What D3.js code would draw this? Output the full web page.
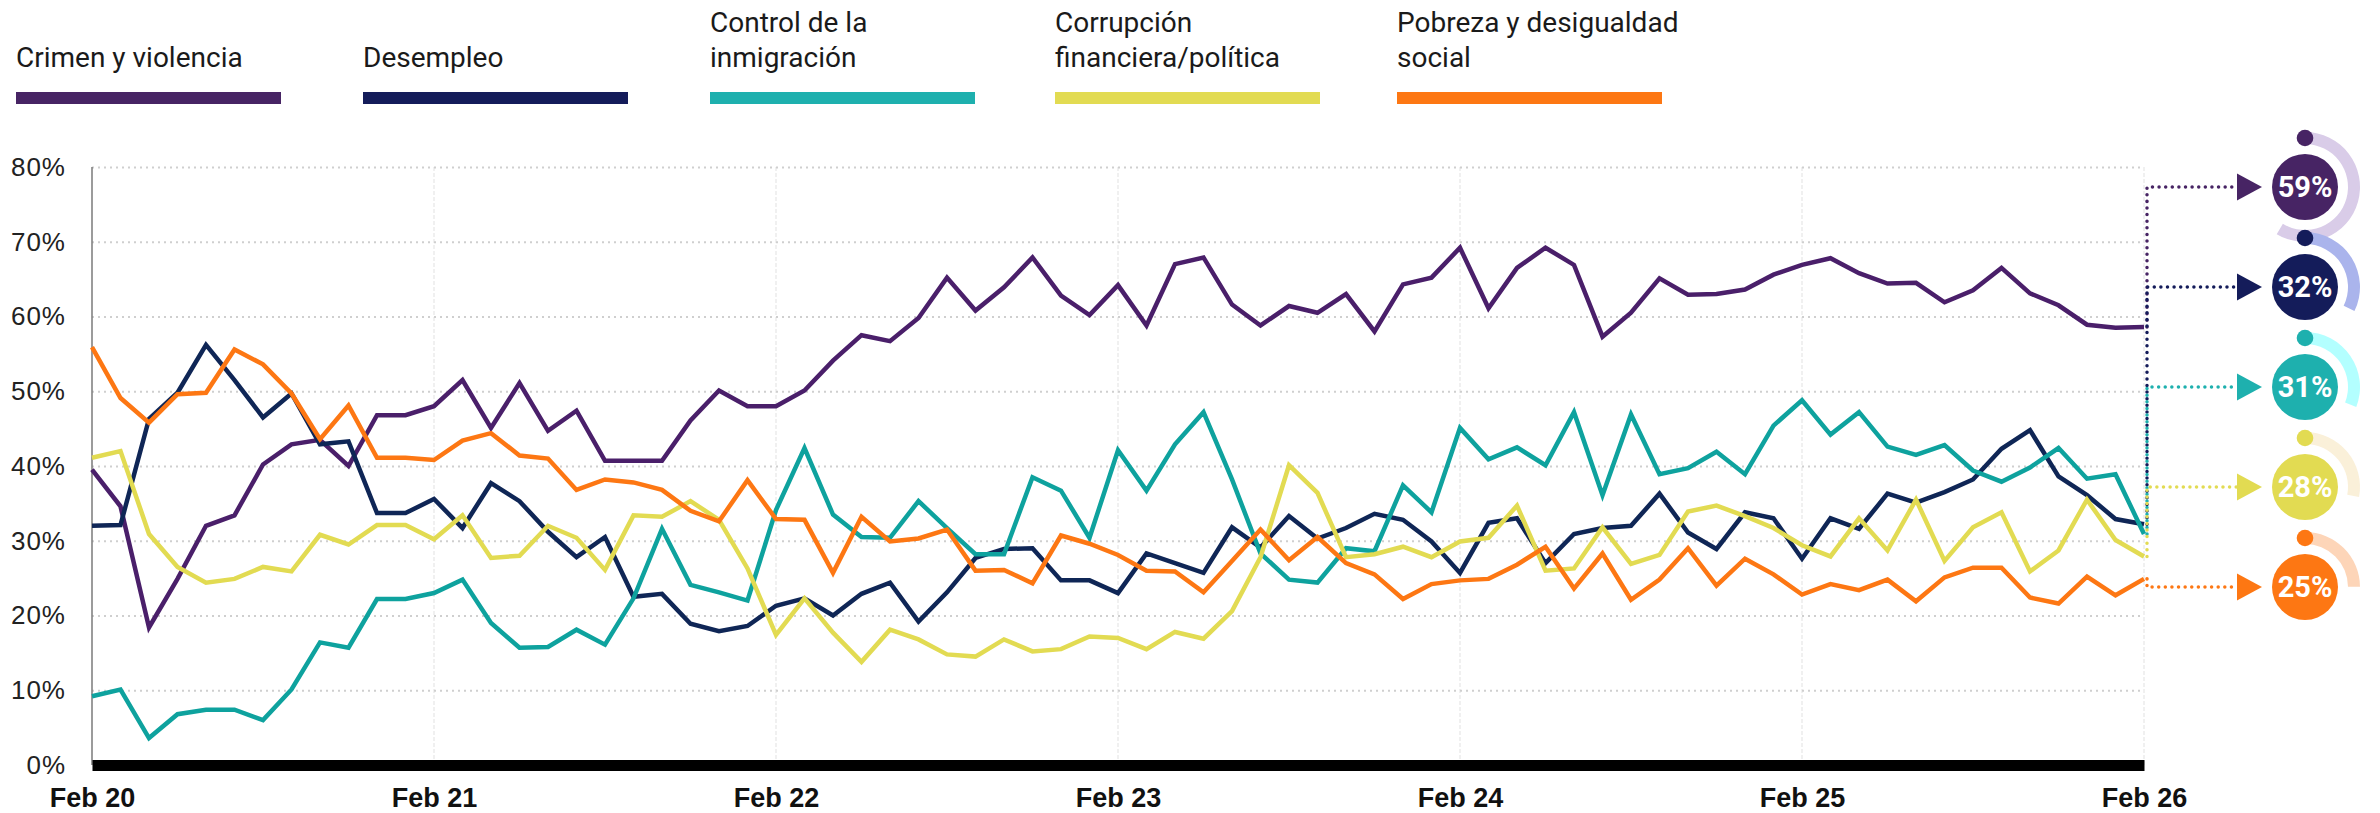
<!DOCTYPE html>
<html lang="es">
<head>
  <meta charset="UTF-8" />
  <title>Preocupaciones principales</title>
  <script src="https://d3js.org/d3.v7.min.js"></script>
  <style>
    body {
      margin: 0;
      padding: 0;
      background: #ffffff;
      font-family: Roboto, "Noto Sans", Arial, sans-serif;
    }
    .legend-text { font-size: 28px; fill: #1a1a1a; }
    .y-tick text { font-size: 26px; fill: #222; letter-spacing: 1px; }
    .x-tick text { font-size: 27px; font-weight: 700; fill: #111; }
    .badge-text { font-size: 29px; font-weight: 700; fill: #fff; }
  </style>
</head>
<body>
  <div id="chart"></div>

  <script>
    /*****************************************************************
     * Data (monthly, Feb 2020 .. Feb 2026)
     *****************************************************************/
    const seriesNames = [
      ["Crimen y violencia"],
      ["Desempleo"],
      ["Control de la", "inmigración"],
      ["Corrupción", "financiera/política"],
      ["Pobreza y desigualdad", "social"]
    ];

    const xTickLabels = ["Feb 20", "Feb 21", "Feb 22", "Feb 23", "Feb 24", "Feb 25", "Feb 26"];
    const yTicks = [0, 10, 20, 30, 40, 50, 60, 70, 80];

    const crimen = [
      39.5, 34.6, 18.4, 24.9, 32.0, 33.4, 40.2, 42.9, 43.5, 40.0, 46.8, 46.8,
      48.0, 51.5, 45.1, 51.1, 44.7, 47.4, 40.7, 40.7, 40.7, 46.1, 50.1, 48.0,
      48.0, 50.1, 54.1, 57.5, 56.7, 59.8, 65.2, 60.8, 63.9, 67.9, 62.8, 60.2,
      64.2, 58.8, 67.0, 67.9, 61.6, 58.8, 61.4, 60.5, 63.0, 58.0, 64.3, 65.2,
      69.2, 61.1, 66.5, 69.2, 66.9, 57.3, 60.5, 65.1, 62.9, 63.0, 63.6, 65.6,
      66.9, 67.8, 65.8, 64.4, 64.5, 61.9, 63.5, 66.5, 63.1, 61.5, 58.9, 58.5,
      58.6
    ];

    const desempleo = [
      32.0, 32.1, 46.3, 49.8, 56.2, 51.5, 46.5, 49.7, 42.9, 43.3, 33.7, 33.7,
      35.6, 31.7, 37.7, 35.3, 31.2, 27.8, 30.5, 22.5, 22.9, 18.9, 17.9, 18.6,
      21.3, 22.3, 20.0, 22.9, 24.4, 19.2, 23.1, 27.7, 28.9, 29.0, 24.7, 24.7,
      23.0, 28.3, 27.0, 25.7, 31.8, 29.1, 33.3, 30.3, 31.7, 33.6, 32.8, 29.9,
      25.7, 32.4, 33.0, 27.0, 30.9, 31.7, 32.0, 36.3, 31.1, 28.9, 33.8, 33.0,
      27.6, 33.0, 31.6, 36.3, 35.1, 36.5, 38.2, 42.3, 44.8, 38.6, 36.1, 32.9,
      32.2
    ];

    const inmigracion = [
      9.2, 10.1, 3.6, 6.8, 7.4, 7.4, 6.0, 10.1, 16.4, 15.7, 22.2, 22.2,
      23.0, 24.8, 19.0, 15.7, 15.8, 18.1, 16.1, 22.3, 31.6, 24.1, 23.1, 22.0,
      34.1, 42.4, 33.5, 30.5, 30.4, 35.3, 31.7, 28.2, 28.2, 38.5, 36.7, 30.4,
      42.1, 36.7, 42.9, 47.2, 38.2, 28.3, 24.8, 24.4, 29.0, 28.6, 37.4, 33.8,
      45.1, 40.9, 42.5, 40.1, 47.2, 36.1, 46.9, 38.9, 39.7, 41.9, 38.9, 45.4,
      48.8, 44.2, 47.2, 42.6, 41.5, 42.8, 39.4, 37.9, 39.8, 42.4, 38.3, 38.9,
      30.9
    ];

    const corrupcion = [
      41.1, 42.0, 30.9, 26.5, 24.4, 24.9, 26.5, 25.9, 30.8, 29.5, 32.1, 32.1,
      30.2, 33.4, 27.7, 28.0, 32.0, 30.4, 26.1, 33.4, 33.2, 35.3, 32.8, 26.3,
      17.4, 22.3, 17.7, 13.8, 18.1, 16.8, 14.8, 14.5, 16.8, 15.2, 15.5, 17.2,
      17.0, 15.5, 17.8, 16.9, 20.6, 27.8, 40.1, 36.4, 27.8, 28.2, 29.2, 27.8,
      29.9, 30.4, 34.7, 26.0, 26.3, 31.8, 26.9, 28.1, 33.9, 34.7, 33.3, 31.7,
      29.4, 27.9, 33.0, 28.7, 35.5, 27.3, 31.8, 33.8, 25.9, 28.7, 35.5, 30.1,
      27.9
    ];

    const pobreza = [
      55.9, 49.1, 45.8, 49.6, 49.8, 55.6, 53.6, 49.7, 43.6, 48.1, 41.1, 41.1,
      40.8, 43.4, 44.4, 41.4, 41.0, 36.8, 38.2, 37.8, 36.8, 34.0, 32.6, 38.1,
      32.9, 32.8, 25.7, 33.2, 29.9, 30.3, 31.5, 26.0, 26.1, 24.3, 30.7, 29.6,
      28.1, 26.0, 25.9, 23.1, 27.3, 31.5, 27.4, 30.5, 27.0, 25.5, 22.2, 24.2,
      24.7, 24.9, 26.8, 29.2, 23.6, 28.3, 22.1, 24.8, 29.0, 24.0, 27.6, 25.5,
      22.8, 24.2, 23.4, 24.8, 21.9, 25.1, 26.4, 26.4, 22.4, 21.6, 25.2, 22.7,
      24.9
    ];

    const allSeries = [crimen, desempleo, inmigracion, corrupcion, pobreza];

    const swatchColors = ["#472464", "#141c5a", "#1eb0ae", "#e2db52", "#fd7713"];
    const lineColors   = ["#4a1f6a", "#0f2656", "#0ea29e", "#e2db52", "#fd7713"];
    const ringColors   = ["#d9cce8", "#aab4ec", "#b3ffff", "#faf0d9", "#fdd5b8"];

    /*****************************************************************
     * Layout
     *****************************************************************/
    const width = 2380;
    const height = 813;
    const plotLeft = 92;
    const plotRight = 2144;
    const plotTop = 167;
    const plotBottom = 765;

    const svg = d3.select("#chart")
      .append("svg")
      .attr("width", width)
      .attr("height", height);

    const x = d3.scaleLinear()
      .domain([0, crimen.length - 1])
      .range([plotLeft, plotRight]);

    const y = d3.scaleLinear()
      .domain([0, 80])
      .range([plotBottom, plotTop]);

    const yearIdx = xTickLabels.map((d, i) => i * 12);

    /*****************************************************************
     * Legend
     *****************************************************************/
    const legendX = [16, 363, 710, 1055, 1397];
    const legend = svg.append("g");
    seriesNames.forEach((lines, i) => {
      const g = legend.append("g").attr("transform", `translate(${legendX[i]},0)`);
      const baseY = lines.length === 2 ? 32 : 67;
      lines.forEach((t, j) => {
        g.append("text")
          .attr("class", "legend-text")
          .attr("x", 0)
          .attr("y", baseY + j * 35)
          .text(t);
      });
      g.append("rect")
        .attr("x", 0).attr("y", 92)
        .attr("width", 265).attr("height", 12)
        .attr("fill", swatchColors[i]);
    });

    /*****************************************************************
     * Grid + axes
     *****************************************************************/
    // vertical gridlines at each Feb
    svg.append("g")
      .selectAll("line")
      .data(yearIdx.slice(1))
      .join("line")
      .attr("x1", d => x(d)).attr("x2", d => x(d))
      .attr("y1", plotTop).attr("y2", plotBottom)
      .attr("stroke", "#ebebeb")
      .attr("stroke-width", 1.5)
      .attr("stroke-dasharray", "4 2");

    // horizontal dotted gridlines via axis
    const yGrid = svg.append("g")
      .attr("transform", `translate(${plotLeft},0)`)
      .call(d3.axisLeft(y).tickValues(yTicks.slice(1)).tickSize(-(plotRight - plotLeft)).tickFormat(""));
    yGrid.select(".domain").remove();
    yGrid.selectAll("line")
      .attr("stroke", "#cfcfcf")
      .attr("stroke-width", 2)
      .attr("stroke-dasharray", "2 4");

    // y labels
    const yAxis = svg.append("g")
      .attr("class", "y-tick")
      .attr("transform", `translate(${plotLeft},0)`)
      .call(d3.axisLeft(y).tickValues(yTicks).tickSize(0).tickPadding(26).tickFormat(d => d + "%"));
    yAxis.select(".domain").remove();
    yAxis.selectAll("text").attr("font-family", null);

    // y axis line
    svg.append("line")
      .attr("x1", plotLeft).attr("x2", plotLeft)
      .attr("y1", plotTop).attr("y2", plotBottom)
      .attr("stroke", "#7a7a7a")
      .attr("stroke-width", 1.5);

    // x axis: thick black bar + bold labels
    const xAxis = svg.append("g")
      .attr("class", "x-tick")
      .attr("transform", `translate(0,${plotBottom})`)
      .call(d3.axisBottom(x).tickValues(yearIdx).tickSize(0).tickPadding(23)
        .tickFormat((d, i) => xTickLabels[i]));
    xAxis.select(".domain")
      .attr("stroke", "#000")
      .attr("stroke-width", 11);
    xAxis.selectAll("text").attr("font-family", null);

    /*****************************************************************
     * Lines
     *****************************************************************/
    const line = d3.line()
      .x((d, i) => x(i))
      .y(d => y(d));

    svg.append("g")
      .selectAll("path")
      .data(allSeries)
      .join("path")
      .attr("d", d => line(d))
      .attr("fill", "none")
      .attr("stroke", (d, i) => lineColors[i])
      .attr("stroke-width", 4.5)
      .attr("stroke-linejoin", "miter");

    /*****************************************************************
     * End-value badges on the right
     *****************************************************************/
    const connX = plotRight + 3;
    const arrowX = 2237;
    const badgeX = 2305;
    const badgeTop = 187;
    const badgeStep = 100;

    const ring = d3.arc().innerRadius(43).outerRadius(55).startAngle(0);

    const badges = svg.append("g");
    allSeries.forEach((s, i) => {
      const last = s[s.length - 1];
      const by = badgeTop + i * badgeStep;

      badges.append("path")
        .attr("d", `M${connX},${y(last)}V${by}H${arrowX}`)
        .attr("fill", "none")
        .attr("stroke", swatchColors[i])
        .attr("stroke-width", 3.5)
        .attr("stroke-linecap", "round")
        .attr("stroke-dasharray", "0.01 6.6");

      badges.append("path")
        .attr("d", `M${arrowX},${by - 13.5}L${arrowX + 25},${by}L${arrowX},${by + 13.5}Z`)
        .attr("fill", swatchColors[i]);

      badges.append("path")
        .attr("transform", `translate(${badgeX},${by})`)
        .attr("d", ring.endAngle(last / 100 * 2 * Math.PI)())
        .attr("fill", ringColors[i]);

      badges.append("circle")
        .attr("cx", badgeX).attr("cy", by - 49)
        .attr("r", 8.3)
        .attr("fill", swatchColors[i]);

      badges.append("circle")
        .attr("cx", badgeX).attr("cy", by)
        .attr("r", 33)
        .attr("fill", swatchColors[i]);

      badges.append("text")
        .attr("class", "badge-text")
        .attr("x", badgeX).attr("y", by)
        .attr("dy", "0.36em")
        .attr("text-anchor", "middle")
        .text(Math.round(last) + "%");
    });
  </script>
</body>
</html>
